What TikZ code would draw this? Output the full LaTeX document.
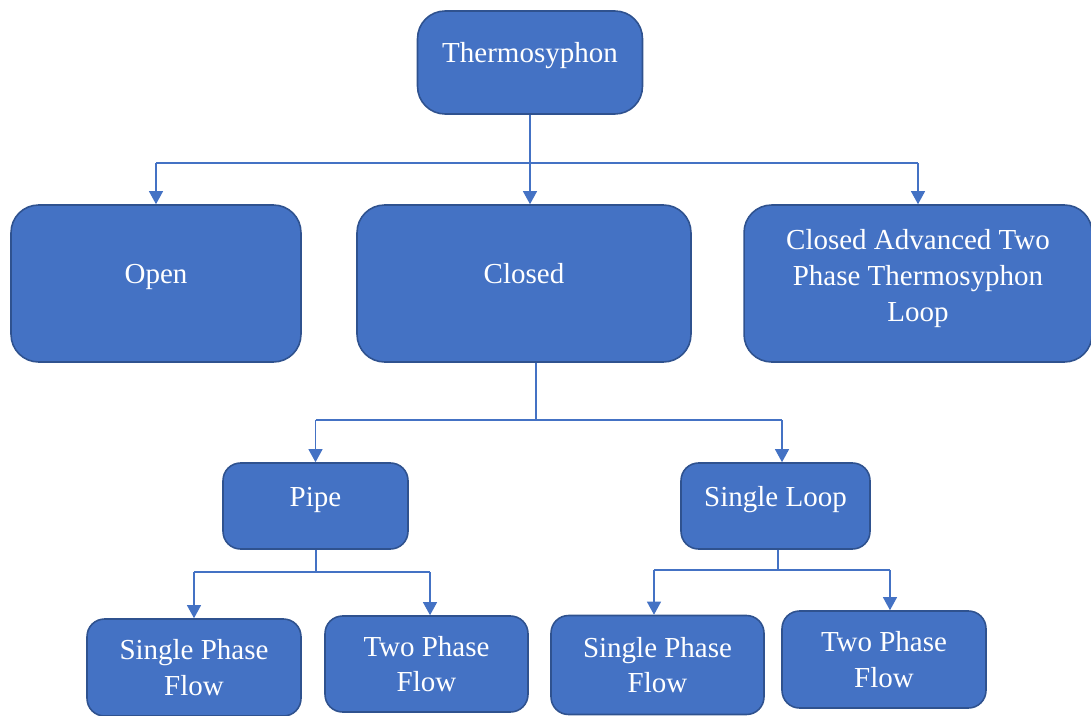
\documentclass[tikz,border=0pt]{standalone}
\usepackage{fontspec}
\setmainfont{Liberation Serif}
\usetikzlibrary{arrows.meta}
\definecolor{boxblue}{HTML}{4472C4}
\definecolor{boxedge}{HTML}{2F528F}

\begin{document}
\begin{tikzpicture}[
    x=0.02cm, y=-0.02cm,
    box/.style={rectangle, rounded corners=0.55cm, draw=boxedge, fill=boxblue, line width=0.9pt,
        text=white, font=\fontsize{16.5}{20.4}\selectfont, align=center, inner sep=0pt},
    small/.style={box, rounded corners=0.35cm},
    oneline/.style={text height=8pt, text depth=8pt},
    line/.style={draw=boxblue, line width=0.85pt},
    arrow/.style={line, -{Triangle[width=8pt, length=7.5pt]}}
]
    \useasboundingbox (0,0) rectangle (1091,716);

    % Top level
    \node[box, oneline, minimum width=4.5cm, minimum height=2.06cm] (thermo) at (530,62.5) {Thermosyphon};

    % Second level
    \node[box, oneline, minimum width=5.8cm, minimum height=3.14cm] (open) at (156,283.5) {Open};
    \node[box, oneline, minimum width=6.68cm, minimum height=3.14cm] (closed) at (524,283.5) {Closed};
    \node[box, text depth=9.5pt, minimum width=6.96cm, minimum height=3.14cm] (catp) at (918,283.5)
        {Closed Advanced Two\\Phase Thermosyphon\\Loop};

    % Third level
    \node[small, oneline, minimum width=3.7cm, minimum height=1.72cm] (pipe) at (315.5,506) {Pipe};
    \node[small, oneline, minimum width=3.78cm, minimum height=1.72cm] (sloop) at (775.5,506) {Single Loop};

    % Flow types
    \node[small, minimum width=4.28cm, minimum height=1.94cm] (spfa) at (194,667.5) {Single Phase\\Flow};
    \node[small, minimum width=4.06cm, minimum height=1.92cm] (tpfa) at (426.5,664) {Two Phase\\Flow};
    \node[small, minimum width=4.26cm, minimum height=1.98cm] (spfb) at (657.5,665) {Single Phase\\Flow};
    \node[small, minimum width=4.08cm, minimum height=1.94cm] (tpfb) at (884,659.5) {Two Phase\\Flow};

    % Junction points
    \coordinate (bustop) at (530,163);
    \coordinate (busclosed) at (536,420);
    \coordinate (buspipe) at (316,572);
    \coordinate (busloop) at (778,570);

    % Thermosyphon branches
    \draw[arrow] (thermo.south) -- (thermo.south |- closed.north);
    \draw[line] (open.north |- bustop) -- (catp.north |- bustop);
    \draw[arrow] (open.north |- bustop) -- (open.north);
    \draw[arrow] (catp.north |- bustop) -- (catp.north);

    % Closed branches
    \draw[line] (closed.south -| busclosed) -- (busclosed);
    \draw[line] (pipe.north |- busclosed) -- ([xshift=3.7pt]sloop.north |- busclosed);
    \draw[arrow] (pipe.north |- busclosed) -- (pipe.north);
    \draw[arrow] ([xshift=3.7pt]sloop.north |- busclosed) -- ([xshift=3.7pt]sloop.north);

    % Pipe branches
    \draw[line] (pipe.south -| buspipe) -- (buspipe);
    \draw[line] (spfa.north |- buspipe) -- ([xshift=2pt]tpfa.north |- buspipe);
    \draw[arrow] (spfa.north |- buspipe) -- (spfa.north);
    \draw[arrow] ([xshift=2pt]tpfa.north |- buspipe) -- ([xshift=2pt]tpfa.north);

    % Single loop branches
    \draw[line] (sloop.south -| busloop) -- (busloop);
    \draw[line] ([xshift=-2pt]spfb.north |- busloop) -- ([xshift=3.4pt]tpfb.north |- busloop);
    \draw[arrow] ([xshift=-2pt]spfb.north |- busloop) -- ([xshift=-2pt]spfb.north);
    \draw[arrow] ([xshift=3.4pt]tpfb.north |- busloop) -- ([xshift=3.4pt]tpfb.north);
\end{tikzpicture}
\end{document}
